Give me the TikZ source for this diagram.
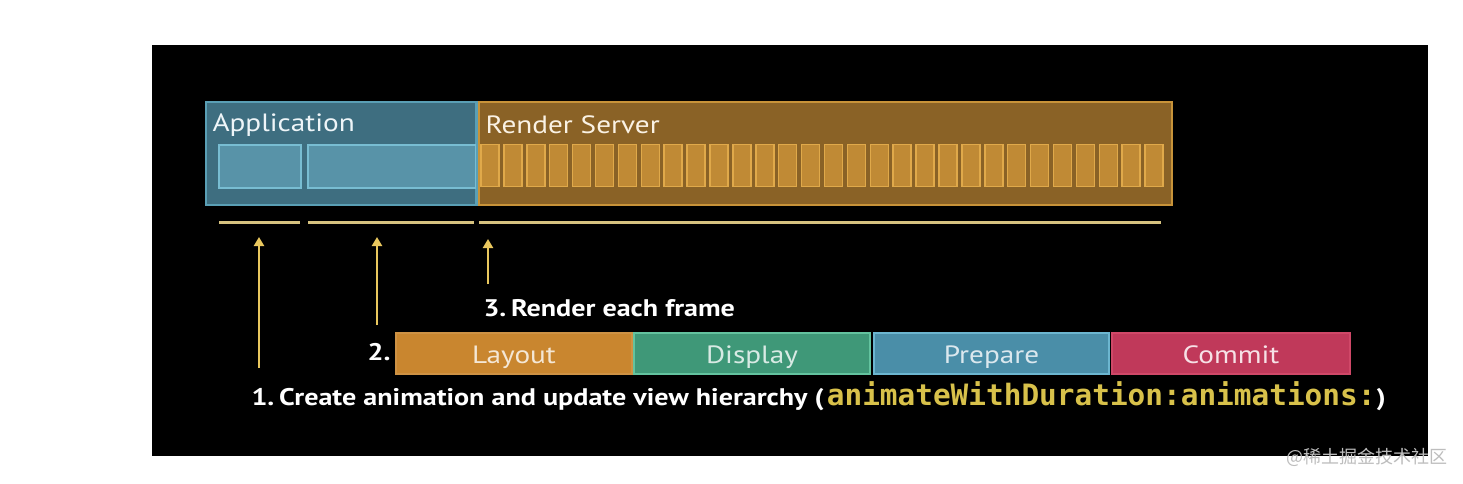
\documentclass[tikz,border=0pt]{standalone}
\usepackage{graphicx}
\usepackage{fontspec}
\setmainfont{PT Sans}
\newfontfamily\monof{DejaVu Sans Mono}
\newfontfamily\cjkf{Noto Sans CJK SC}
\usetikzlibrary{arrows.meta}
\newcommand\widetxt[1]{\scalebox{1.17}[1]{#1}}
\definecolor{appfill}{HTML}{3E6E80}
\definecolor{appline}{HTML}{5A9FB5}
\definecolor{appin}{HTML}{5893A8}
\definecolor{appinline}{HTML}{78BDD2}
\definecolor{rsfill}{HTML}{8A6226}
\definecolor{rsline}{HTML}{C89339}
\definecolor{frfill}{HTML}{C08A35}
\definecolor{frline}{HTML}{E0A94A}
\definecolor{tline}{HTML}{D6C27F}
\definecolor{arrc}{HTML}{E9C75E}
\definecolor{layc}{HTML}{C9862F}
\definecolor{dispc}{HTML}{3F9878}
\definecolor{displ}{HTML}{63C39F}
\definecolor{prepc}{HTML}{4A8EA8}
\definecolor{prepl}{HTML}{6CB6D0}
\definecolor{commc}{HTML}{C0395A}
\definecolor{comml}{HTML}{D04868}
\definecolor{monoc}{HTML}{D8C14A}
\definecolor{wmark}{HTML}{BDBDBD}
\begin{document}
\begin{tikzpicture}[x=1pt,y=-1pt,
  box/.style={anchor=north west,inner sep=0pt,line width=2pt},
  frame/.style={draw=frline,fill=frfill,line width=1.5pt,minimum width=18pt,minimum height=42pt,inner sep=0pt},
  tl/.style={draw=tline,line width=3pt},
  arr/.style={draw=arrc,line width=2.5pt,-{Triangle[width=10pt,length=9pt]}},
  lbl/.style={font=\fontsize{25}{28}\selectfont,anchor=west},
  steplbl/.style={font=\bfseries\fontsize{24}{28}\selectfont,text=white,anchor=west},
  barlbl/.style={font=\fontsize{25}{28}\selectfont,anchor=base}
]
\useasboundingbox (0,0) rectangle (1463,484);
\fill[white] (0,0) rectangle (1463,484);
\fill[black] (152,45) rectangle (1428,456);

% Application
\node[box,draw=appline,fill=appfill,minimum width=270pt,minimum height=103pt] (app) at (205,101) {};
\node[lbl,text=white!90!appline] (apptxt) at (209,125) {\widetxt{Application}};
\node[box,draw=appinline,fill=appin,minimum width=82pt,minimum height=43pt] (ab1) at (218,144) {};
\node[box,draw=appinline,fill=appin,minimum width=168pt,minimum height=43pt] (ab2) at (307,144) {};

% Render server
\node[box,draw=rsline,fill=rsfill,minimum width=693pt,minimum height=103pt] (rs) at (478,101) {};
\node[lbl,text=white!85!frline] (rstxt) at (482,125) {\widetxt{Render Server}};
\foreach \i in {0,...,29} {
  \node[frame] (f\i) at ({490+\i*22.9},165.5) {};
}
\draw[appline,line width=2pt] (app.north east) -- (app.south east);

% timeline lines
\coordinate (l1a) at (219,222); \coordinate (l1b) at (300,222);
\coordinate (l2a) at (308,222); \coordinate (l2b) at (474,222);
\coordinate (l3a) at (479,222); \coordinate (l3b) at (1161,222);
\draw[tl] (l1a) -- (l1b);
\draw[tl] (l2a) -- (l2b);
\draw[tl] (l3a) -- (l3b);

% arrows
\coordinate (a1s) at (259,368); \coordinate (a1e) at (259,237);
\coordinate (a2s) at (377,325); \coordinate (a2e) at (377,237);
\coordinate (a3s) at (488,284); \coordinate (a3e) at (488,239);
\draw[arr] (a1s) -- (a1e);
\draw[arr] (a2s) -- (a2e);
\draw[arr] (a3s) -- (a3e);

% step labels
\node[steplbl] (s3) at (480,308) {\widetxt{3.\,Render each frame}};
\node[steplbl,anchor=east] (s2) at (394,352) {\widetxt{2.}};

% bars
\node[box,draw=layc!90!white,fill=layc,minimum width=236pt,minimum height=41pt] (lay) at (395,332) {};
\node[box,draw=displ,fill=dispc,minimum width=236pt,minimum height=41pt] (disp) at (633,332) {};
\node[box,draw=prepl,fill=prepc,minimum width=235pt,minimum height=41pt] (prep) at (873,332) {};
\node[box,draw=comml,fill=commc,minimum width=238pt,minimum height=41pt] (comm) at (1111,332) {};
\node[barlbl,text=white!80!layc] (layt) at (lay.center |- 0,363) {\widetxt{Layout}};
\node[barlbl,text=white!80!dispc] (dispt) at (disp.center |- 0,363) {\widetxt{Display}};
\node[barlbl,text=white!80!prepc] (prept) at (prep.center |- 0,363) {\widetxt{Prepare}};
\node[barlbl,text=white!85!commc] (commt) at (comm.center |- 0,363) {\widetxt{Commit}};

% bottom label
\node[steplbl] (s1) at (248,396) {\widetxt{1.\,Create animation and update view hierarchy (}\hspace{3pt}{\monof\bfseries\color{monoc}\fontsize{29.4}{30}\selectfont animateWithDuration:animations:}\hspace{1pt}\widetxt{)}};

% watermark
\node[font=\cjkf\fontsize{18}{20}\selectfont,text=wmark,anchor=west] (wm) at (1283,457) {@稀土掘金技术社区};
\end{tikzpicture}
\end{document}
